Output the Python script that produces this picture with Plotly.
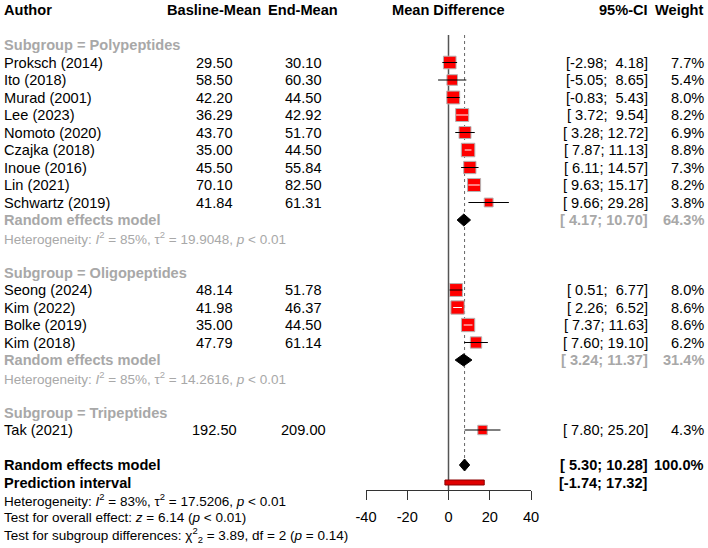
import plotly.graph_objects as go

# ---------------- data ----------------
group_names = ["Polypeptides", "Oligopeptides", "Tripeptides"]

poly_authors = ["Proksch (2014)", "Ito (2018)", "Murad (2001)", "Lee (2023)", "Nomoto (2020)",
                "Czajka (2018)", "Inoue (2016)", "Lin (2021)", "Schwartz (2019)"]
poly_base = [29.50, 58.50, 42.20, 36.29, 43.70, 35.00, 45.50, 70.10, 41.84]
poly_end = [30.10, 60.30, 44.50, 42.92, 51.70, 44.50, 55.84, 82.50, 61.31]
poly_md = [0.60, 1.80, 2.30, 6.63, 8.00, 9.50, 10.34, 12.40, 19.47]
poly_lo = [-2.98, -5.05, -0.83, 3.72, 3.28, 7.87, 6.11, 9.63, 9.66]
poly_hi = [4.18, 8.65, 5.43, 9.54, 12.72, 11.13, 14.57, 15.17, 29.28]
poly_w = [7.7, 5.4, 8.0, 8.2, 6.9, 8.8, 7.3, 8.2, 3.8]

oligo_authors = ["Seong (2024)", "Kim (2022)", "Bolke (2019)", "Kim (2018)"]
oligo_base = [48.14, 41.98, 35.00, 47.79]
oligo_end = [51.78, 46.37, 44.50, 61.14]
oligo_md = [3.64, 4.39, 9.50, 13.35]
oligo_lo = [0.51, 2.26, 7.37, 7.60]
oligo_hi = [6.77, 6.52, 11.63, 19.10]
oligo_w = [8.0, 8.6, 8.6, 6.2]

tri_authors = ["Tak (2021)"]
tri_base = [192.50]
tri_end = [209.00]
tri_md = [16.50]
tri_lo = [7.80]
tri_hi = [25.20]
tri_w = [4.3]

# subgroup random effects summaries (Polypeptides, Oligopeptides)
sub_md = [7.435, 7.305]
sub_lo = [4.17, 3.24]
sub_hi = [10.70, 11.37]
sub_w = [64.3, 31.4]
sub_tau2 = ["19.9048", "14.2616"]
sub_i2 = ["85%", "85%"]

# overall
overall_md = 7.79
overall_lo = 5.30
overall_hi = 10.28
overall_w = 100.0
pi_lo = -1.74
pi_hi = 17.32
overall_i2 = "83%"
overall_tau2 = "17.5206"
overall_z = "6.14"
sub_chi2 = "3.89"
sub_df = "2"
sub_p = "0.14"

tick_vals = [-40, -20, 0, 20, 40]
tick_text = ["-40", "-20", "0", "20", "40"]

# ---------------- layout constants ----------------
W, H = 708, 548
ROW0_PX = 45.0
ROW_PX = 17.5
AX_L_PX, AX_R_PX = 366.0, 531.0
AX_Y_PX = 490.0
PX_PER_UNIT = (AX_R_PX - AX_L_PX) / 80.0
FONT = "Liberation Sans, Arial, sans-serif"
GREY = "#a8a8a8"
NB = "\u00a0"
FS = 14.6
FS_SMALL = 13.5

def px(x):
    return x / W

def fmt_ci(lo, hi):
    return ("[%5.2f; %5.2f]" % (lo, hi)).replace(" ", NB)

annotations = []

def txt(row, x_px, text, anchor="left", size=FS, color="black", bold=False):
    if bold:
        text = "<b>" + text + "</b>"
    annotations.append(dict(
        x=px(x_px), y=row, xref="paper", yref="y", text=text, showarrow=False,
        xanchor=anchor, yanchor="middle", font=dict(family=FONT, size=size, color=color),
        borderpad=0, borderwidth=0))

COL_AUTH = 4
COL_BASE = 214
COL_END = 303
COL_MD = 448
COL_CI = 648
COL_W = 704

# headers
txt(-2, COL_AUTH, "Author", bold=True)
txt(-2, COL_BASE, "Basline-Mean", anchor="center", bold=True)
txt(-2, COL_END, "End-Mean", anchor="center", bold=True)
txt(-2, COL_MD, "Mean Difference", anchor="center", bold=True)
txt(-2, COL_CI, "95%-CI", anchor="right", bold=True)
txt(-2, COL_W, "Weight", anchor="right", bold=True)

groups = [
    (poly_authors, poly_base, poly_end, poly_md, poly_lo, poly_hi, poly_w),
    (oligo_authors, oligo_base, oligo_end, oligo_md, oligo_lo, oligo_hi, oligo_w),
    (tri_authors, tri_base, tri_end, tri_md, tri_lo, tri_hi, tri_w),
]

sq_x, sq_y, sq_s = [], [], []
blk_x, blk_y, wht_x, wht_y = [], [], [], []
dia_traces = []

def square_size(w):
    return 13.5 * (w / 8.8) ** 0.5

def diamond(md, lo, hi, row, color="black"):
    h = 6.0 / ROW_PX
    return go.Scatter(x=[lo, md, hi, md, lo], y=[row, row - h, row, row + h, row],
                      mode="lines", fill="toself", fillcolor=color,
                      line=dict(color=color, width=1), hoverinfo="skip", showlegend=False)

row = 0
for gi, (au, ba, en, md, lo, hi, w) in enumerate(groups):
    txt(row, COL_AUTH, "Subgroup = " + group_names[gi], color=GREY, bold=True)
    row += 1
    for i in range(len(au)):
        txt(row, COL_AUTH, au[i])
        txt(row, COL_BASE, "%.2f" % ba[i], anchor="center")
        txt(row, COL_END, "%.2f" % en[i], anchor="center")
        txt(row, COL_CI, fmt_ci(lo[i], hi[i]), anchor="right")
        txt(row, COL_W, "%.1f%%" % w[i], anchor="right")
        s = square_size(w[i])
        sq_x.append(md[i]); sq_y.append(row); sq_s.append(s)
        if (hi[i] - lo[i]) * PX_PER_UNIT > s:
            blk_x += [lo[i], hi[i], None]; blk_y += [row, row, None]
        else:
            wht_x += [lo[i], hi[i], None]; wht_y += [row, row, None]
        row += 1
    if len(au) > 1:
        txt(row, COL_AUTH, "Random effects model", color=GREY, bold=True)
        txt(row, COL_CI, fmt_ci(sub_lo[gi], sub_hi[gi]), anchor="right", color=GREY, bold=True)
        txt(row, COL_W, "%.1f%%" % sub_w[gi], anchor="right", color=GREY, bold=True)
        dia_traces.append(diamond(sub_md[gi], sub_lo[gi], sub_hi[gi], row))
        row += 1
        txt(row, COL_AUTH, "Heterogeneity: <i>I</i><sup>2</sup> = %s, τ<sup>2</sup> = %s, <i>p</i> &lt; 0.01"
            % (sub_i2[gi], sub_tau2[gi]), size=FS_SMALL, color=GREY)
        row += 1
    row += 1

# overall
txt(row, COL_AUTH, "Random effects model", bold=True)
txt(row, COL_CI, fmt_ci(overall_lo, overall_hi), anchor="right", bold=True)
txt(row, COL_W, "%.1f%%" % overall_w, anchor="right", bold=True)
dia_traces.append(diamond(overall_md, overall_lo, overall_hi, row))
overall_row = row
row += 1
txt(row, COL_AUTH, "Prediction interval", bold=True)
txt(row, COL_CI, fmt_ci(pi_lo, pi_hi), anchor="right", bold=True)
pi_row = row
row += 1
txt(row, COL_AUTH, "Heterogeneity: <i>I</i><sup>2</sup> = %s, τ<sup>2</sup> = %s, <i>p</i> &lt; 0.01"
    % (overall_i2, overall_tau2), size=FS_SMALL)
row += 1
txt(row, COL_AUTH, "Test for overall effect: <i>z</i> = %s (<i>p</i> &lt; 0.01)" % overall_z, size=FS_SMALL)
row += 1
txt(row, COL_AUTH, "Test for subgroup differences: χ<sup>2</sup><sub>%s</sub> = %s, df = %s (<i>p</i> = %s)"
    % (sub_df, sub_chi2, sub_df, sub_p), size=FS_SMALL)

fig = go.Figure()

# squares
fig.add_trace(go.Scatter(x=sq_x, y=sq_y, mode="markers",
                         marker=dict(symbol="square", size=sq_s, color="#ff0000", opacity=1,
                                     line=dict(color="#b4b4b4", width=1)),
                         hoverinfo="skip", showlegend=False))
# CI lines
fig.add_trace(go.Scatter(x=blk_x, y=blk_y, mode="lines", line=dict(color="black", width=1),
                         hoverinfo="skip", showlegend=False))
fig.add_trace(go.Scatter(x=wht_x, y=wht_y, mode="lines", line=dict(color="white", width=1),
                         hoverinfo="skip", showlegend=False))
for t in dia_traces:
    fig.add_trace(t)

# prediction interval bar
ph = 2.5 / ROW_PX
fig.add_trace(go.Scatter(x=[pi_lo, pi_hi, pi_hi, pi_lo, pi_lo],
                         y=[pi_row - ph, pi_row - ph, pi_row + ph, pi_row + ph, pi_row - ph],
                         mode="lines", fill="toself", fillcolor="#e00000",
                         line=dict(color="#8b0000", width=1), hoverinfo="skip", showlegend=False))

top_paper = 1 - 35.0 / H
axis_pos = 1 - AX_Y_PX / H
shapes = [
    dict(type="line", xref="x", yref="paper", x0=0, x1=0, y0=axis_pos, y1=top_paper,
         line=dict(color="#555555", width=1.5), layer="below"),
    dict(type="line", xref="x", yref="paper", x0=overall_md, x1=overall_md,
         y0=1 - 470.0 / H, y1=top_paper, line=dict(color="#666666", width=1, dash="dot"),
         layer="below"),
]

y_top = -ROW0_PX / ROW_PX
y_bot = (H - ROW0_PX) / ROW_PX

fig.update_layout(
    width=W, height=H, autosize=False,
    margin=dict(l=0, r=0, t=0, b=0, pad=0, autoexpand=False),
    paper_bgcolor="white", plot_bgcolor="rgba(0,0,0,0)",
    showlegend=False, annotations=annotations, shapes=shapes,
    xaxis=dict(range=[-40, 40], domain=[AX_L_PX / W, AX_R_PX / W], anchor="free",
               position=axis_pos, showline=True, linecolor="#333333", linewidth=1,
               ticks="outside", ticklen=9, tickcolor="#333333", tickwidth=1,
               tickvals=tick_vals, ticktext=tick_text, ticklabelstandoff=4,
               tickfont=dict(family=FONT, size=FS, color="black"),
               showgrid=False, zeroline=False, fixedrange=True, automargin=False),
    yaxis=dict(range=[y_bot, y_top], domain=[0, 1], visible=False, showgrid=False,
               zeroline=False, fixedrange=True, automargin=False),
)

fig.write_html("out.html", config={"responsive": False, "displayModeBar": False},
               default_width=W, default_height=H,
               post_script="document.body.style.margin='0';document.body.style.padding='0';")
